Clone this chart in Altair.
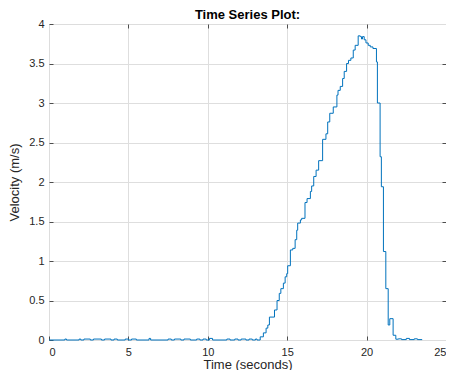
import altair as alt
import pandas as pd

time_s = [0.0, 1.0, 1.1, 1.9, 2.0, 2.2, 2.6, 2.8, 3.3, 3.5, 3.9, 4.1, 4.3, 4.8,
          5.0, 5.2, 5.5, 6.3, 6.4, 7.5, 7.7, 7.9, 8.3, 8.5, 8.9, 9.3, 9.5, 9.7,
          9.9, 10.1, 10.3, 11.2, 11.4, 11.7, 11.9, 12.1, 12.4, 12.6, 12.8, 13.0, 13.1,
          13.30, 13.50, 13.67, 13.78, 13.88, 14.20, 14.36, 14.50, 14.60, 14.76,
          14.87, 14.97, 15.03, 15.20, 15.35, 15.50, 15.60, 15.66, 15.83, 15.91,
          16.12, 16.25, 16.46, 16.54, 16.67, 16.82, 16.98, 17.23, 17.44, 17.55,
          17.68, 17.90, 18.13, 18.20, 18.34, 18.49, 18.59, 18.74, 18.86, 19.01,
          19.16, 19.28, 19.47, 19.60, 19.68, 19.74, 19.85, 19.96, 20.10, 20.23,
          20.40, 20.62, 20.68, 20.85, 20.93, 21.06, 21.21, 21.36, 21.46, 21.67,
          21.84, 22.0, 22.2, 22.5, 22.7, 23.0, 23.2, 23.5]

velocity = [0, 0.012, 0, 0.012, 0, 0.012, 0, 0.012, 0, 0.012, 0, 0.012, 0, 0.012,
            0, 0.012, 0, 0.02, 0, 0.012, 0, 0.012, 0, 0.012, 0, 0.012, 0, 0.012,
            0, 0.02, 0, 0.012, 0, 0.012, 0, 0.012, 0, 0.012, 0, 0.012, 0,
            0.04, 0.09, 0.15, 0.19, 0.29, 0.38, 0.50, 0.59, 0.65, 0.72,
            0.80, 0.84, 0.94, 1.14, 1.16, 1.27, 1.39, 1.48, 1.52, 1.54,
            1.74, 1.79, 1.88, 1.95, 2.07, 2.15, 2.27, 2.54, 2.61, 2.76,
            2.87, 2.95, 3.10, 3.16, 3.21, 3.31, 3.40, 3.50, 3.54, 3.57,
            3.67, 3.73, 3.85, 3.84, 3.81, 3.84, 3.80, 3.76, 3.73, 3.71,
            3.69, 3.52, 3.00, 2.32, 1.94, 1.12, 0.65, 0.19, 0.27, 0.06,
            0.01, 0.015, 0.005, 0.02, 0.005, 0.015, 0.005, 0.005]

x_ticks = [0, 5, 10, 15, 20, 25]
y_ticks = [0, 0.5, 1, 1.5, 2, 2.5, 3, 3.5, 4]
x_grid = [5, 10, 15, 20]
y_grid = [0.5, 1, 1.5, 2, 2.5, 3, 3.5]

df = pd.DataFrame({"t": time_s, "v": velocity})

FONT = "Liberation Sans"
xs = alt.Scale(domain=[0, 25], nice=False, zero=False)
ys = alt.Scale(domain=[0, 4], nice=False)

common = dict(domain=False, tickSize=4, offset=-4, tickColor="#4d4d4d",
              labelFont=FONT, labelFontSize=11, labelColor="#262626",
              titleFont=FONT, titleFontSize=13, titleColor="#262626",
              titleFontWeight="normal")

main = alt.Chart(df).mark_line(
    interpolate="step-after", color="#0072BD", strokeWidth=1
).encode(
    x=alt.X("t:Q", scale=xs, axis=alt.Axis(
        orient="bottom", values=x_ticks, grid=False, title="Time (seconds)",
        labelPadding=6, titlePadding=1, **common)),
    y=alt.Y("v:Q", scale=ys, axis=alt.Axis(
        orient="left", values=y_ticks, grid=False, title="Velocity (m/s)",
        labelPadding=5, titlePadding=7, format="~g", **common)),
)

frame = alt.Chart(df).mark_line(opacity=0).encode(
    x=alt.X("t:Q", scale=xs, axis=alt.Axis(
        orient="top", values=x_grid, grid=True, gridColor="#dedede",
        labels=False, title=None, **common)),
    y=alt.Y("v:Q", scale=ys, axis=alt.Axis(
        orient="right", values=y_grid, grid=True, gridColor="#dedede",
        labels=False, title=None, **common)),
)

chart = alt.layer(frame, main).resolve_axis(
    x="independent", y="independent"
).properties(
    width=397, height=316,
    title=alt.TitleParams("Time Series Plot:", font=FONT, fontSize=13,
                          fontWeight="bold", color="#000000", offset=0,
                          dy=4, frame="group"),
    autosize=alt.AutoSizeParams(type="none"),
    padding={"left": 41, "top": 16, "right": 0, "bottom": 30},
).configure_view(stroke="#9a9a9a", strokeWidth=1).configure(background="white")

chart.save("out.html", embed_options={"renderer": "svg", "actions": False})
